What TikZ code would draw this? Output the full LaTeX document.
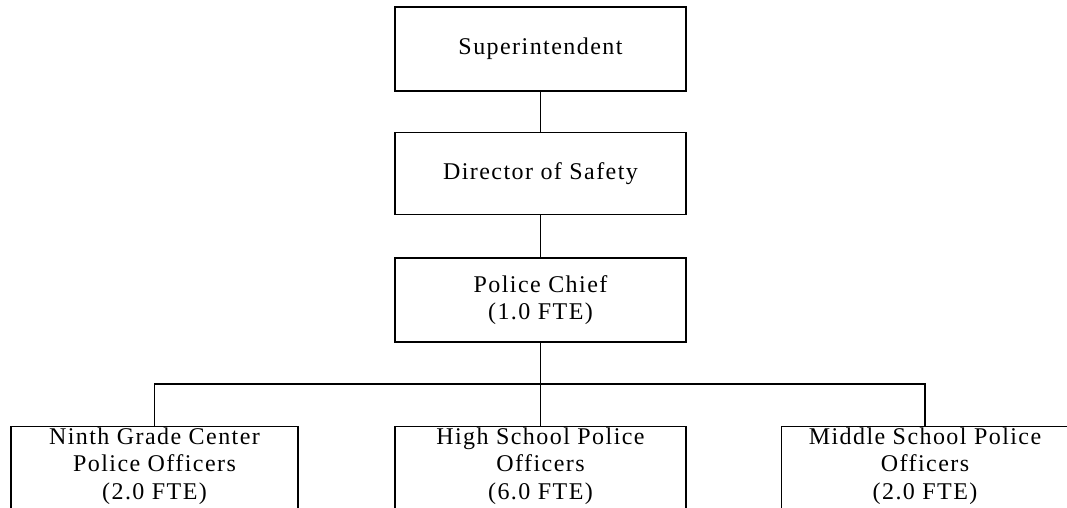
\documentclass[tikz,border=0pt]{standalone}
\usepackage{fontspec}
\setmainfont{Liberation Serif}[LetterSpace=6]
\begin{document}
\begin{tikzpicture}[x=1pt,y=-1pt,
  box/.style={draw=black, line width=1.4pt, minimum width=291pt, minimum height=84pt,
    align=center, inner sep=1pt, font=\fontsize{24}{27.5}\selectfont},
  unit/.style={box, minimum width=287pt, minimum height=0pt, anchor=north, text depth=100pt},
  link/.style={draw=black, line width=1.4pt}]
\useasboundingbox (0,0) rectangle (1067,508);

% command chain
\node[box] (sup) at (540.5,49) {Superintendent};
\node[box, minimum height=82pt] (dir) at (540.5,173.5) {Director of Safety};
\node[box] (chief) at (540.5,300) {Police Chief\\(1.0 FTE)};

% officer units
\node[unit] (ninth) at (154.5,426) {Ninth Grade Center\\Police Officers\\(2.0 FTE)};
\node[unit, minimum width=291pt] (high) at (540.5,426) {High School Police\\Officers\\(6.0 FTE)};
\node[unit] (middle) at (925,426) {Middle School Police\\Officers\\(2.0 FTE)};

% connectors
\coordinate (bus) at (540.5,384);
\draw[link] (sup) -- (dir);
\draw[link] (dir) -- (chief);
\draw[link] (chief.south) -- (high.north);
\draw[link] (ninth.north) |- (bus);
\draw[link] (middle.north) |- (bus);
\end{tikzpicture}
\end{document}
